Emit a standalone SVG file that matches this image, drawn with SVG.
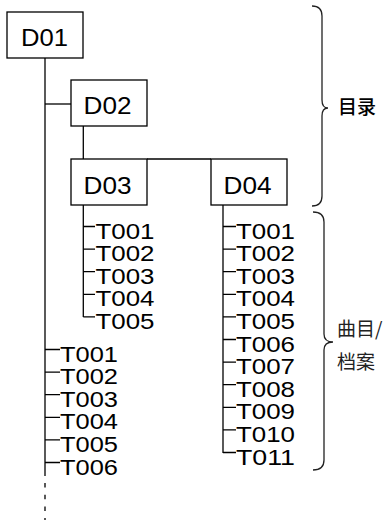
<svg xmlns="http://www.w3.org/2000/svg" width="386" height="520" viewBox="0 0 386 520">
<style>
.box{fill:#fff;stroke:#000;stroke-width:1.3}
.ln{fill:none;stroke:#000;stroke-width:1.3}
.br{fill:none;stroke:#222;stroke-width:1.3}
.d{font-family:"Liberation Sans",Arial,sans-serif;font-size:24.5px;fill:#000}
.t{font-family:"Liberation Sans",Arial,sans-serif;font-size:22.4px;fill:#000}
.cj{font-family:"Noto Sans CJK SC","Noto Sans",sans-serif;font-size:19px;fill:#222}
.cjb{font-family:"Noto Sans CJK SC","Noto Sans",sans-serif;font-size:19px;font-weight:500;fill:#000}
</style>
<rect width="386" height="520" fill="#fff"/>
<g id="connectors">
<line class="ln" x1="45" y1="58" x2="45" y2="476"/>
<line class="ln" x1="45" y1="483" x2="45" y2="520" stroke-dasharray="4.5 7.2"/>
<line class="ln" x1="45" y1="104" x2="71" y2="104"/>
<line class="ln" x1="83.3" y1="126" x2="83.3" y2="159"/>
<line class="ln" x1="147" y1="159" x2="211" y2="159"/>
<line class="ln" x1="83.3" y1="205" x2="83.3" y2="317"/>
<path class="ln" d="M83.3,226.5H95M83.3,249.1H95M83.3,271.7H95M83.3,294.3H95M83.3,316.9H95"/>
<line class="ln" x1="223" y1="205" x2="223" y2="453"/>
<path class="ln" d="M223,226.5H236M223,249.1H236M223,271.7H236M223,294.3H236M223,316.9H236M223,339.5H236M223,362.1H236M223,384.7H236M223,407.3H236M223,429.9H236M223,452.5H236"/>
<path class="ln" d="M45,349.5H60M45,372.1H60M45,394.7H60M45,417.3H60M45,439.9H60M45,462.5H60"/>
</g>
<g id="D01"><rect class="box" x="7" y="12" width="76" height="46"/><text class="d" x="21" y="46" textLength="47" lengthAdjust="spacingAndGlyphs">D01</text></g>
<g id="D02"><rect class="box" x="71" y="80" width="76" height="46"/><text class="d" x="83.5" y="113.8" textLength="48" lengthAdjust="spacingAndGlyphs">D02</text></g>
<g id="D03"><rect class="box" x="71" y="159" width="76" height="46"/><text class="d" x="83.5" y="193.8" textLength="48" lengthAdjust="spacingAndGlyphs">D03</text></g>
<g id="D04"><rect class="box" x="211" y="159" width="76" height="46"/><text class="d" x="223.5" y="193.8" textLength="48" lengthAdjust="spacingAndGlyphs">D04</text></g>
<g id="D03-tracks">
<text class="t" x="95.5" y="238.5" textLength="59" lengthAdjust="spacingAndGlyphs">T001</text>
<text class="t" x="95.5" y="261.1" textLength="59" lengthAdjust="spacingAndGlyphs">T002</text>
<text class="t" x="95.5" y="283.7" textLength="59" lengthAdjust="spacingAndGlyphs">T003</text>
<text class="t" x="95.5" y="306.3" textLength="59" lengthAdjust="spacingAndGlyphs">T004</text>
<text class="t" x="95.5" y="328.9" textLength="59" lengthAdjust="spacingAndGlyphs">T005</text>
</g>
<g id="D04-tracks">
<text class="t" x="236" y="238.5" textLength="59" lengthAdjust="spacingAndGlyphs">T001</text>
<text class="t" x="236" y="261.1" textLength="59" lengthAdjust="spacingAndGlyphs">T002</text>
<text class="t" x="236" y="283.7" textLength="59" lengthAdjust="spacingAndGlyphs">T003</text>
<text class="t" x="236" y="306.3" textLength="59" lengthAdjust="spacingAndGlyphs">T004</text>
<text class="t" x="236" y="328.9" textLength="59" lengthAdjust="spacingAndGlyphs">T005</text>
<text class="t" x="236" y="351.5" textLength="59" lengthAdjust="spacingAndGlyphs">T006</text>
<text class="t" x="236" y="374.1" textLength="59" lengthAdjust="spacingAndGlyphs">T007</text>
<text class="t" x="236" y="396.7" textLength="59" lengthAdjust="spacingAndGlyphs">T008</text>
<text class="t" x="236" y="419.3" textLength="59" lengthAdjust="spacingAndGlyphs">T009</text>
<text class="t" x="236" y="441.9" textLength="59" lengthAdjust="spacingAndGlyphs">T010</text>
<text class="t" x="236" y="464.5" textLength="59" lengthAdjust="spacingAndGlyphs">T011</text>
</g>
<g id="D01-tracks">
<text class="t" x="60" y="361.5" textLength="58" lengthAdjust="spacingAndGlyphs">T001</text>
<text class="t" x="60" y="384.1" textLength="58" lengthAdjust="spacingAndGlyphs">T002</text>
<text class="t" x="60" y="406.7" textLength="58" lengthAdjust="spacingAndGlyphs">T003</text>
<text class="t" x="60" y="429.3" textLength="58" lengthAdjust="spacingAndGlyphs">T004</text>
<text class="t" x="60" y="451.9" textLength="58" lengthAdjust="spacingAndGlyphs">T005</text>
<text class="t" x="60" y="474.5" textLength="58" lengthAdjust="spacingAndGlyphs">T006</text>
</g>
<g id="brace-directory">
<path class="br" d="M312,6 Q322,6 322,16 L322,100 Q322,108 328,108 Q322,108 322,116 L322,196 Q322,206 312,206"/>
<text class="cjb" x="338" y="114">目录</text>
</g>
<g id="brace-tracks">
<path class="br" d="M313,212 Q324,212 324,222 L324,334 Q324,342 333,342 Q324,342 324,350 L324,460 Q324,470 313,470"/>
<text class="cj" x="337" y="336">曲目/</text>
<text class="cj" x="337" y="369">档案</text>
</g>
</svg>
